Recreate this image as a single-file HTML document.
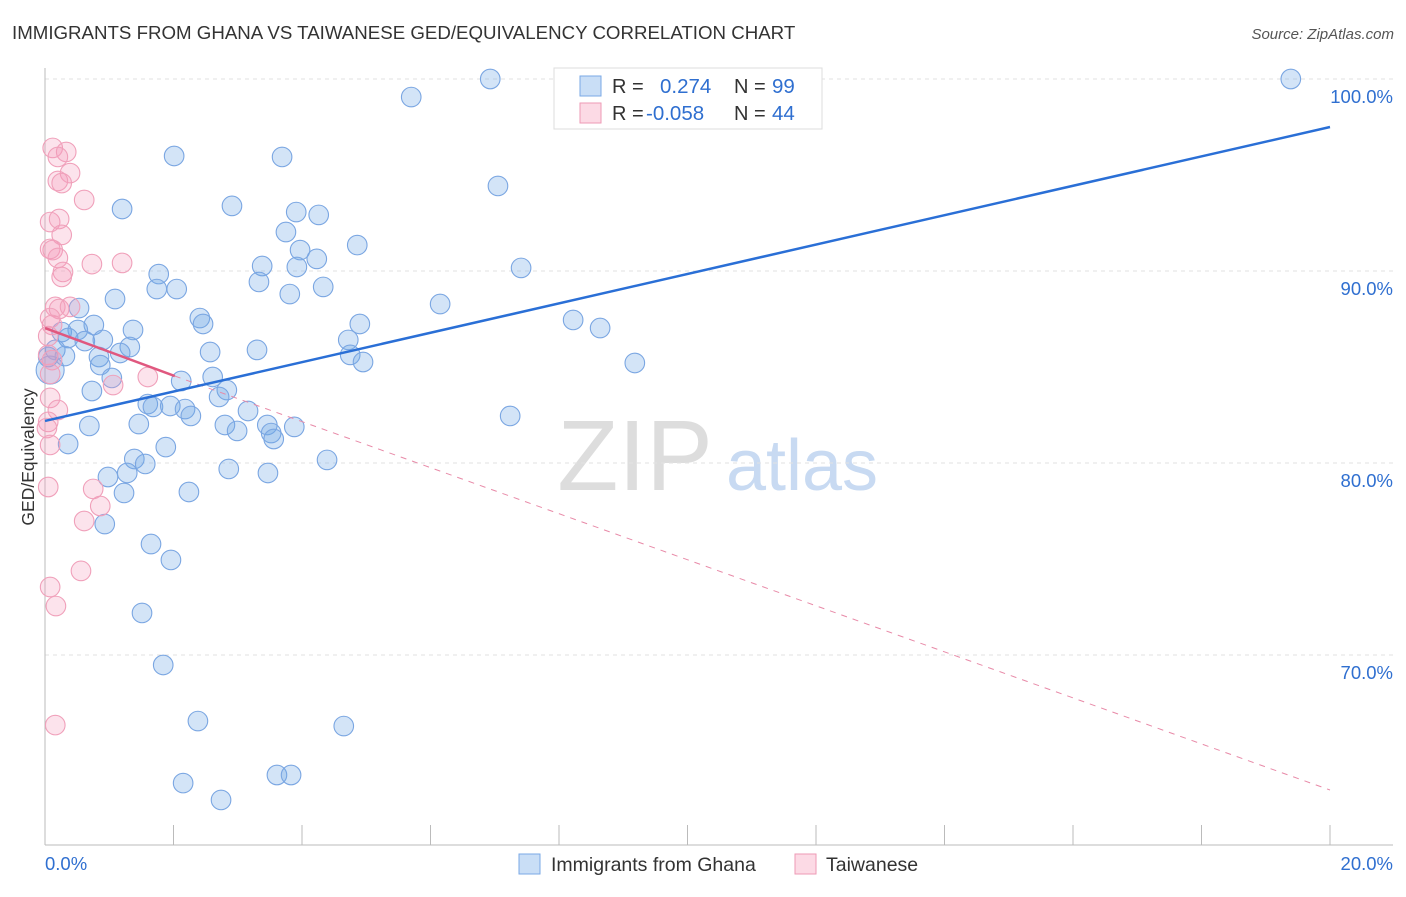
<!DOCTYPE html>
<html><head><meta charset="utf-8"><style>
body{margin:0;background:#fff;font-family:"Liberation Sans",sans-serif}
svg text{font-family:"Liberation Sans",sans-serif}
</style></head><body>
<svg width="1406" height="892" viewBox="0 0 1406 892" xmlns="http://www.w3.org/2000/svg">
<text x="12" y="39" font-size="18.7" fill="#333">IMMIGRANTS FROM GHANA VS TAIWANESE GED/EQUIVALENCY CORRELATION CHART</text>
<text x="1394" y="39" font-size="15" fill="#555" text-anchor="end" font-style="italic">Source: ZipAtlas.com</text>
<g>
<text x="635" y="490" font-size="100" fill="#ddd" text-anchor="middle" font-family="Liberation Serif, serif">ZIP</text>
<text x="802" y="490" font-size="72" fill="#c8daf2" text-anchor="middle">atlas</text>
</g>
<g id="grid"></g>
<g id="axes"></g>
<g id="marks"></g>
<text transform="translate(34,457) rotate(-90)" font-size="17.5" fill="#333" text-anchor="middle">GED/Equivalency</text>
<g>
<rect x="554" y="68" width="268" height="61" fill="#fff" stroke="#ddd"/>
<rect x="580" y="76" width="21" height="20" fill="rgba(100,160,230,0.35)" stroke="#7aa8e6"/>
<rect x="580" y="103" width="21" height="20" fill="rgba(245,150,180,0.35)" stroke="#ee9ab5"/>
<text x="612" y="93" font-size="20" fill="#333">R = </text>
<text x="660" y="93" font-size="20.5" fill="#2f6fd0">0.274</text>
<text x="734" y="93" font-size="20" fill="#333">N = </text>
<text x="772" y="93" font-size="20.5" fill="#2f6fd0">99</text>
<text x="612" y="120" font-size="20" fill="#333">R = </text>
<text x="646" y="120" font-size="20.5" fill="#2f6fd0">-0.058</text>
<text x="734" y="120" font-size="20" fill="#333">N = </text>
<text x="772" y="120" font-size="20.5" fill="#2f6fd0">44</text>
</g>
<g>
<rect x="519" y="854" width="21" height="20" fill="rgba(100,160,230,0.35)" stroke="#7aa8e6"/>
<text x="551" y="871" font-size="19.5" fill="#333">Immigrants from Ghana</text>
<rect x="795" y="854" width="21" height="20" fill="rgba(245,150,180,0.35)" stroke="#ee9ab5"/>
<text x="826" y="871" font-size="19.5" fill="#333">Taiwanese</text>
</g>
</svg>
<script>
const ghanaX=[6.93,19.39,5.70,2.01,3.69,7.05,1.20,2.91,3.91,4.26,3.75,4.86,3.97,4.23,3.38,3.92,7.41,1.77,3.33,1.74,2.05,4.33,3.81,1.09,6.15,0.53,2.41,8.22,2.46,0.76,4.90,8.64,0.26,0.51,1.37,0.36,0.62,0.90,4.72,1.32,0.16,2.57,3.30,1.17,0.05,0.31,0.84,4.75,4.95,9.18,0.86,0.08,1.04,2.61,2.12,0.73,2.83,2.71,1.60,1.68,1.95,2.18,2.27,3.16,7.24,0.69,1.46,2.80,3.46,2.99,3.88,3.52,3.56,0.36,1.88,1.39,1.56,4.39,2.86,3.47,1.28,0.98,1.23,2.24,0.93,1.65,1.96,1.51,1.84,2.38,4.65,2.15,3.61,3.83,2.74];
const ghanaY=[100.0,100.0,99.06,95.99,95.94,94.43,93.23,93.39,93.07,92.92,92.03,91.35,91.09,90.63,90.26,90.21,90.16,89.84,89.43,89.06,89.06,89.17,88.80,88.54,88.28,88.07,87.55,87.45,87.24,87.19,87.24,87.03,86.82,86.93,86.93,86.51,86.35,86.41,86.41,86.04,85.89,85.78,85.89,85.73,85.52,85.57,85.52,85.63,85.26,85.21,85.10,84.84,84.43,84.48,84.27,83.75,83.80,83.44,83.07,82.92,82.97,82.81,82.45,82.71,82.45,81.93,82.03,81.98,81.98,81.67,81.88,81.56,81.25,80.99,80.83,80.21,79.95,80.16,79.69,79.48,79.48,79.27,78.44,78.49,76.82,75.78,74.95,72.19,69.48,66.56,66.30,63.33,63.75,63.75,62.45];
const taiwanX=[0.12,0.33,0.20,0.39,0.20,0.26,0.61,0.08,0.22,0.26,0.08,0.12,0.20,0.73,1.20,0.28,0.26,0.16,0.22,0.39,0.08,0.11,0.05,0.05,0.11,0.08,1.60,1.06,0.08,0.20,0.05,0.03,0.08,0.05,0.75,0.86,0.61,0.56,0.08,0.17,0.16];
const taiwanY=[96.41,96.20,95.94,95.10,94.69,94.58,93.70,92.55,92.71,91.88,91.15,91.09,90.68,90.36,90.42,89.95,89.69,88.13,88.02,88.13,87.55,87.19,86.61,85.63,85.36,84.64,84.48,84.06,83.39,82.76,82.14,81.82,80.94,78.75,78.65,77.76,76.98,74.38,73.54,72.55,66.35];
const ghanaTrend=[[0,82.19],[20,97.50]];
const taiwanTrend=[[0,87.03],[2.02,84.53]];
const taiwanTrendExt=[[2.02,84.53],[20,62.97]];
const yTicks=[100,90,80,70];
const yTickLabels=["100.0%","90.0%","80.0%","70.0%"];
const xTicks=[0,2,4,6,8,10,12,14,16,18,20];

const NS="http://www.w3.org/2000/svg";
const sx=v=>45+v*64.25;
const sy=v=>79+(100-v)*19.2;
function mk(tag,attrs,parent){const e=document.createElementNS(NS,tag);for(const k in attrs)e.setAttribute(k,attrs[k]);parent.appendChild(e);return e;}
const grid=document.getElementById('grid'),axes=document.getElementById('axes'),marks=document.getElementById('marks');
yTicks.forEach((t,i)=>{
 const l=mk('line',{x1:45,x2:1393,y1:sy(t),y2:sy(t),stroke:'#e2e2e2','stroke-dasharray':'4,4'},grid);
 
 
 const tx=mk('text',{x:1393,y:sy(t)+24,'font-size':18.5,fill:'#2f6fd0','text-anchor':'end'},axes);
 tx.textContent=yTickLabels[i];
 
 
});
const ya=mk('line',{x1:45,x2:45,y1:68,y2:845,stroke:'#bbb'},axes);


const xa=mk('line',{x1:45,x2:1393,y1:845,y2:845,stroke:'#bbb'},axes);


xTicks.forEach(t=>{
 const l=mk('line',{x1:sx(t),x2:sx(t),y1:825,y2:845,stroke:'#bbb'},axes);
 
 
});
[[0,"0.0%","start",45],[20,"20.0%","end",1393]].forEach(d=>{
 const tx=mk('text',{x:d[3],y:870,'font-size':18.5,fill:'#2f6fd0','text-anchor':d[2]},axes);
 tx.textContent=d[1];
 
 
});
ghanaX.forEach((x,i)=>{
 const c=mk('circle',{cx:sx(x),cy:sy(ghanaY[i]),r:(i===51?14:9.8),fill:'rgba(110,165,230,0.3)',stroke:'#7aa6e2','stroke-width':1.1},marks);
 
 
});
taiwanX.forEach((x,i)=>{
 const c=mk('circle',{cx:sx(x),cy:sy(taiwanY[i]),r:9.8,fill:'rgba(245,155,185,0.28)',stroke:'#f0a0ba','stroke-width':1.1},marks);
 
 
});
function tl(p,st,w,dash,name){
 const l=mk('line',{x1:sx(p[0][0]),y1:sy(p[0][1]),x2:sx(p[1][0]),y2:sy(p[1][1]),stroke:st,'stroke-width':w},marks);
 if(dash)l.setAttribute('stroke-dasharray',dash);
 
 
}
tl(taiwanTrendExt,'#e88aa8',1,'6,6','taiwanese-trend-extension');
tl(ghanaTrend,'#2a6fd6',2.5,null,'ghana-trend-line');
tl(taiwanTrend,'#e0587f',2.5,null,'taiwanese-trend-line');
</script>
</body></html>
